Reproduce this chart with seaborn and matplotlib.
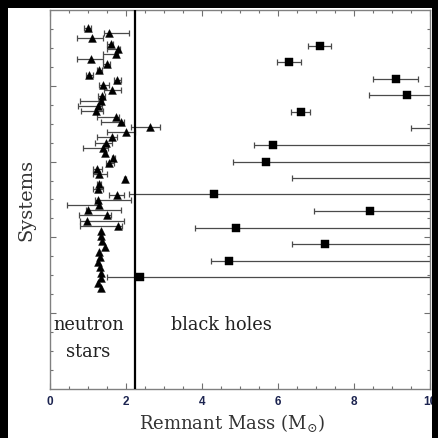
import numpy as np
import pandas as pd
import matplotlib
matplotlib.use("Agg")
import matplotlib.pyplot as plt
from matplotlib.patches import Rectangle
from matplotlib.ticker import FixedLocator, MultipleLocator
import seaborn as sns

# Neutron-star systems: mass and lower/upper bounds (solar masses)
ns_mass = [1.00, 1.56, 1.12, 1.62, 1.79, 1.74, 1.08, 1.50, 1.31, 1.05,
           1.78, 1.41, 1.63, 1.37, 1.35, 1.27, 1.21, 1.75, 1.89, 2.64,
           2.01, 1.63, 1.48, 1.40, 1.46, 1.68, 1.57, 1.26, 1.31, 1.98,
           1.30, 1.28, 1.77, 1.28, 1.31, 1.02, 1.50, 0.98, 1.79, 1.35,
           1.35, 1.38, 1.46, 1.31, 1.33, 1.28, 1.33, 1.35, 1.35, 1.27, 1.35]
ns_lo = [0.91, 1.43, 0.71, 1.50, 1.50, 1.40, 0.73, 1.41, 1.24, 0.95,
         1.70, 1.30, 1.43, 1.28, 0.80, 0.74, 0.82, 1.26, 1.35, 2.13,
         1.50, 1.24, 1.20, 0.89, 1.43, 1.64, 1.48, 1.15, 1.15, 1.95,
         1.25, 1.15, 1.57, 1.20, 0.47, 0.96, 0.78, 0.80, 0.80, 1.35,
         1.35, 1.38, 1.46, 1.31, 1.33, 1.28, 1.33, 1.35, 1.35, 1.27, 1.35]
ns_hi = [1.09, 2.10, 1.41, 1.68, 1.85, 1.81, 1.41, 1.59, 1.37, 1.15,
         1.89, 1.56, 1.89, 1.46, 1.41, 1.37, 1.40, 1.83, 1.96, 2.90,
         2.25, 1.77, 1.63, 1.53, 1.49, 1.72, 1.70, 1.37, 1.50, 2.02,
         1.35, 1.41, 1.97, 2.13, 1.33, 1.88, 1.62, 1.97, 1.90, 1.35,
         1.35, 1.38, 1.46, 1.31, 1.33, 1.28, 1.33, 1.35, 1.35, 1.27, 1.35]
ns_row = list(range(len(ns_mass)))

# Black-hole systems: row position, mass and lower/upper bounds
bh_row = [3.4, 6.5, 9.7, 12.9, 16.1, 19.3, 22.5, 25.7, 28.8, 31.9,
          35.2, 38.4, 41.5, 44.75, 47.9]
bh_mass = [7.11, 6.29, 9.10, 9.40, 6.60, 11.5, 5.88, 5.69, 12.0, 4.32,
           8.42, 4.91, 7.25, 4.72, 2.38]
bh_lo = [6.80, 5.99, 8.49, 8.40, 6.35, 9.49, 5.38, 4.81, 6.37, 2.10,
         6.95, 3.83, 6.37, 4.24, 1.50]
bh_hi = [7.40, 6.61, 9.69, 11.0, 6.85, 13.0, 12.0, 12.0, 14.0, 12.0,
         12.0, 12.0, 12.0, 12.0, 12.0]

mass_limit = 2.25

ns = pd.DataFrame({"row": ns_row, "mass": ns_mass, "lo": ns_lo, "hi": ns_hi})
bh = pd.DataFrame({"row": bh_row, "mass": bh_mass, "lo": bh_lo, "hi": bh_hi})

sns.set_theme(style="white")
plt.rcParams["mathtext.fontset"] = "dejavuserif"

W = H = 438
fig = plt.figure(figsize=(W / 100, H / 100), dpi=100, facecolor="white")
# dark frame strips along the top, left and right edges
for (x0, y0, w, h) in [(0, 1 - 7.5 / H, 1, 7.5 / H), (0, 0, 7.5 / W, 1),
                       (432 / W, 0, 6 / W, 1)]:
    fig.patches.append(Rectangle((x0, y0), w, h, transform=fig.transFigure,
                                 facecolor="black", edgecolor="none", zorder=5))
ax = fig.add_axes([49.5 / W, 1 - 389 / H, (430 - 49.5) / W, (389 - 10) / H])
ax.set_facecolor("white")

err_kw = dict(fmt="none", ecolor="#4a4a4a", elinewidth=0.9, capsize=2.3,
              capthick=0.9, zorder=2)
has_err = ns[ns["hi"] > ns["lo"]]
ax.errorbar(has_err["mass"], has_err["row"],
            xerr=[has_err["mass"] - has_err["lo"], has_err["hi"] - has_err["mass"]],
            **err_kw)
ax.errorbar(bh["mass"], bh["row"],
            xerr=[bh["mass"] - bh["lo"], bh["hi"] - bh["mass"]], **err_kw)

sns.scatterplot(data=ns, x="mass", y="row", marker="^", s=32, color="black",
                edgecolor="black", linewidth=0.3, ax=ax, zorder=3)
sns.scatterplot(data=bh, x="mass", y="row", marker="s", s=30, color="black",
                edgecolor="black", linewidth=0.3, ax=ax, zorder=3)

ax.axvline(mass_limit, color="black", lw=1.6, zorder=4)

top, bottom = -3.46, 69.34
ax.set_xlim(0, 10)
ax.set_ylim(bottom, top)

ax.xaxis.set_major_locator(FixedLocator([0, 2, 4, 6, 8, 10]))
ax.xaxis.set_minor_locator(MultipleLocator(0.5))
yt = np.linspace(top, bottom, 21)
ax.yaxis.set_major_locator(FixedLocator(yt[[4, 8, 12, 16]]))
ax.yaxis.set_minor_locator(FixedLocator(yt[1:-1]))
ax.set_yticklabels([])

ax.tick_params(which="both", direction="in", top=True, right=True,
               bottom=True, left=True, color="#707070", width=0.8)
ax.tick_params(which="major", length=4.5)
ax.tick_params(which="minor", length=2.3)
ax.tick_params(axis="x", which="major", labelsize=8.5, pad=5,
               labelcolor="#1c2450")

for sp in ax.spines.values():
    sp.set_color("#808080")
    sp.set_linewidth(1.0)

serif = "DejaVu Serif"
ax.set_xlabel(r"Remnant Mass (M$_{\odot}$)", family=serif, fontsize=13,
              color="#333333", labelpad=1)
ax.xaxis.set_label_coords(0.48, -0.062)
ax.set_ylabel("Systems", family=serif, fontsize=14, color="#333333",
              labelpad=7)
ax.set_xticklabels(["0", "2", "4", "6", "8", "10"], family="Liberation Sans",
                   fontweight="bold")

ax.text(1.04, 57.0, "neutron", family=serif, fontsize=12.8, color="#222222",
        ha="center", va="center")
ax.text(1.02, 62.2, "stars", family=serif, fontsize=12.8, color="#222222",
        ha="center", va="center")
ax.text(4.53, 57.0, "black holes", family=serif, fontsize=12.8, color="#222222",
        ha="center", va="center")

fig.savefig("out.png", dpi=100, facecolor="white")
